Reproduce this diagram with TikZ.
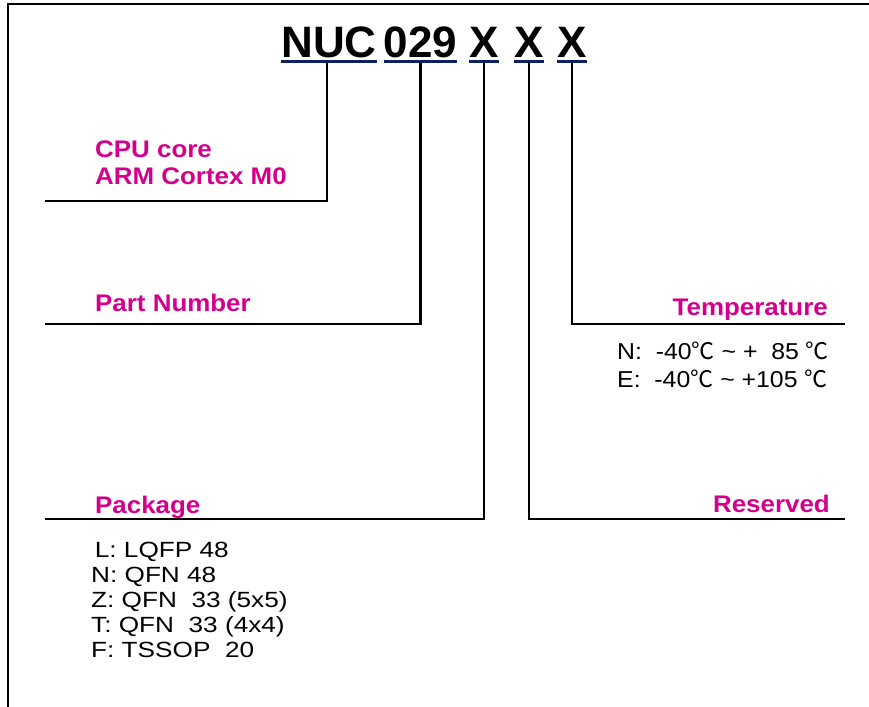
\documentclass[tikz,border=0pt]{standalone}
\usepackage{fontspec}
\setmainfont{Liberation Sans}
\newfontfamily\labfont[FakeStretch=1.08]{Liberation Sans}
\newfontfamily\tempfont[FakeStretch=1.08]{Liberation Sans}
\newfontfamily\pkgfont[FakeStretch=1.19]{Liberation Sans}
\newfontfamily\cjk{Noto Sans CJK SC}
\newcommand\tightlines{\setlength\lineskiplimit{-20pt}}
\definecolor{fieldmag}{RGB}{212,0,140}
\definecolor{ulnavy}{RGB}{14,32,94}
\tikzset{
  partlbl/.style={inner sep=0pt,font=\bfseries\fontsize{44}{44}\selectfont},
  fieldlbl/.style={inner sep=0pt,text=fieldmag,align=left,
    font=\labfont\bfseries\fontsize{24}{26.7}\selectfont},
  tmplist/.style={inner sep=0pt,align=left,font=\tempfont\fontsize{23}{28}\selectfont},
  pkglist/.style={inner sep=0pt,align=left,
    font={\pkgfont\fontsize{22}{25}\selectfont\tightlines}},
  uline/.style={draw=ulnavy,line width=2.7pt},
}
\begin{document}
\begin{tikzpicture}[x=1pt,y=-1pt]
% ordering code chart, 1 unit = 1 pixel of the chart
\ifx\codelw\undefined\newdimen\codelw\fi
\def\codedraw{\draw[line width=\codelw]}
\codelw=2.3pt
\useasboundingbox (0,0) rectangle (869,706);
\codedraw (8,712) -- (8,4) -- (875,4);
\draw (329,58) node[partlbl,anchor=base] (nuc){NUC};
\draw (420.5,58) node[partlbl,anchor=base] (num){029};
\draw (484,58) node[partlbl,anchor=base] (xpkg){X};
\draw (529,58) node[partlbl,anchor=base] (xres){X};
\draw (572,58) node[partlbl,anchor=base] (xtmp){X};
\foreach \n in {nuc,num,xpkg,xres,xtmp}
  \draw[uline] ([yshift=-3.5pt]\n.base west) -- ([yshift=-3.5pt]\n.base east);
\coordinate (cpu-l) at (45,201);
\coordinate (pn-l) at (45,324);
\coordinate (pkg-l) at (45,519);
\coordinate (res-r) at (845,519);
\coordinate (tmp-r) at (845,324);
\codedraw ([xshift=-2pt,yshift=-5pt]nuc.base) |- (cpu-l);
\codedraw ([yshift=-5pt]num.base) |- (pn-l);
\codedraw ([yshift=-5pt]xpkg.base) |- (pkg-l);
\codedraw ([yshift=-5pt]xres.base) |- (res-r);
\codedraw ([yshift=-5pt]xtmp.base) |- (tmp-r);
% multi-line nodes sit on their last line
\draw (95,184) node[fieldlbl,anchor=base west] (cpu){CPU core\\ARM Cortex M0};
\draw (95,311.7) node[fieldlbl,anchor=base west] (pn){Part Number};
\draw (95,513) node[fieldlbl,anchor=base west] (pkg){Package};
\draw (828,315) node[fieldlbl,anchor=base east] (tmp){Temperature};
\draw (830,512) node[fieldlbl,anchor=base east] (res){Reserved};
\draw (617,387) node[tmplist,anchor=base west] (tmpval){%
N:\ \ -40{\cjk ℃} {\textasciitilde} +\phantom{1}85 {\cjk ℃}\\%
E:\ \ -40{\cjk ℃} {\textasciitilde} +105 {\cjk ℃}};
\draw (91,657) node[pkglist,anchor=base west] (pkgval){%
\,L: LQFP 48\\N: QFN 48\\Z: QFN\ \ 33 (5x5)\\T: QFN\ \ 33 (4x4)\\F: TSSOP\ \ 20};
\end{tikzpicture}
\end{document}
